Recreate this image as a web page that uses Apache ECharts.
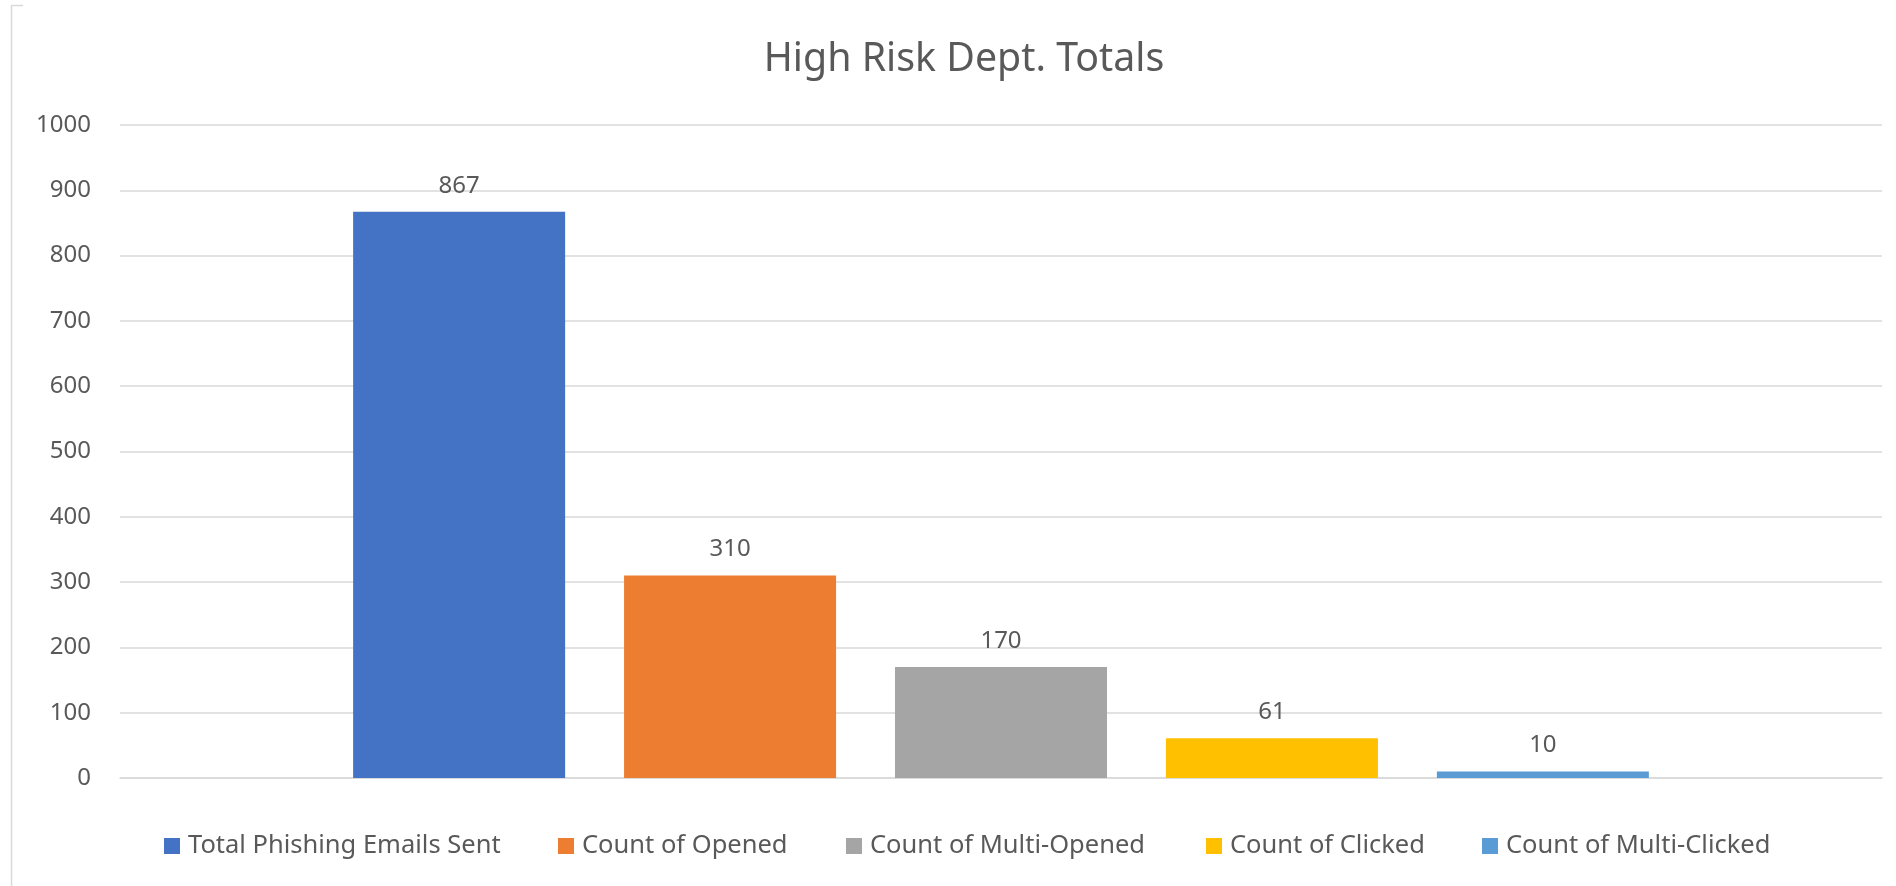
<!DOCTYPE html>
<html>
<head>
<meta charset="utf-8">
<script src="https://cdn.jsdelivr.net/npm/echarts@6/dist/echarts.min.js"></script>
<style>
html,body{margin:0;padding:0;background:#fff;}
#chart{width:1896px;height:886px;}
</style>
</head>
<body>
<div id="chart"></div>
<script>
const titleText = 'High Risk Dept. Totals';
const categories = [''];
const seriesNames = ['Total Phishing Emails Sent', 'Count of Opened', 'Count of Multi-Opened', 'Count of Clicked', 'Count of Multi-Clicked'];
const seriesValues = [867, 310, 170, 61, 10];
const seriesColors = ['#4472C4', '#ED7D31', '#A5A5A5', '#FFC000', '#5B9BD5'];
const yTicks = {min: 0, max: 1000, interval: 100};

const FONT = '"Noto Sans", sans-serif';
const legendLefts = [164, 558, 846, 1206, 1482];
const chart = echarts.init(document.getElementById('chart'), null, {renderer: 'canvas'});

const series = seriesNames.map((name, i) => ({
  name: name,
  type: 'bar',
  data: [seriesValues[i]],
  barWidth: 212,
  barGap: '27.8%',
  itemStyle: {color: seriesColors[i]},
  label: {
    show: true,
    position: 'top',
    distance: 14,
    color: '#595959',
    fontSize: 24,
    fontFamily: FONT
  }
}));

const legends = seriesNames.map((name, i) => ({
  left: legendLefts[i],
  top: 833,
  padding: 0,
  itemWidth: 16,
  itemHeight: 16,
  icon: 'rect',
  selectedMode: false,
  textStyle: {color: '#595959', fontSize: 25.5, fontFamily: FONT, padding: [0, 0, 0, 3]},
  data: [name]
}));

chart.setOption({
  animation: false,
  backgroundColor: '#ffffff',
  title: {
    text: titleText,
    left: 959,
    textAlign: 'center',
    top: 35,
    textStyle: {color: '#595959', fontSize: 39.3, fontWeight: 'normal', fontFamily: FONT}
  },
  legend: legends,
  grid: {left: 120, right: 14, top: 125, bottom: 108, containLabel: false},
  xAxis: {
    type: 'category',
    data: categories,
    axisLine: {show: true, lineStyle: {color: '#D9D9D9', width: 1.5}},
    axisTick: {show: false},
    axisLabel: {show: false},
    splitLine: {show: false}
  },
  yAxis: {
    type: 'value',
    min: yTicks.min,
    max: yTicks.max,
    interval: yTicks.interval,
    axisLine: {show: false},
    axisTick: {show: false},
    axisLabel: {color: '#595959', fontSize: 24, fontFamily: FONT, margin: 29, formatter: v => String(v)},
    splitLine: {lineStyle: {color: '#D9D9D9', width: 1.5}}
  },
  graphic: [
    {type: 'line', shape: {x1: 11.5, y1: 5, x2: 11.5, y2: 886}, style: {stroke: '#D9D9D9', lineWidth: 1.5}},
    {type: 'line', shape: {x1: 11.5, y1: 5.5, x2: 23, y2: 5.5}, style: {stroke: '#D9D9D9', lineWidth: 1.5}}
  ],
  series: series
});
</script>
</body>
</html>
